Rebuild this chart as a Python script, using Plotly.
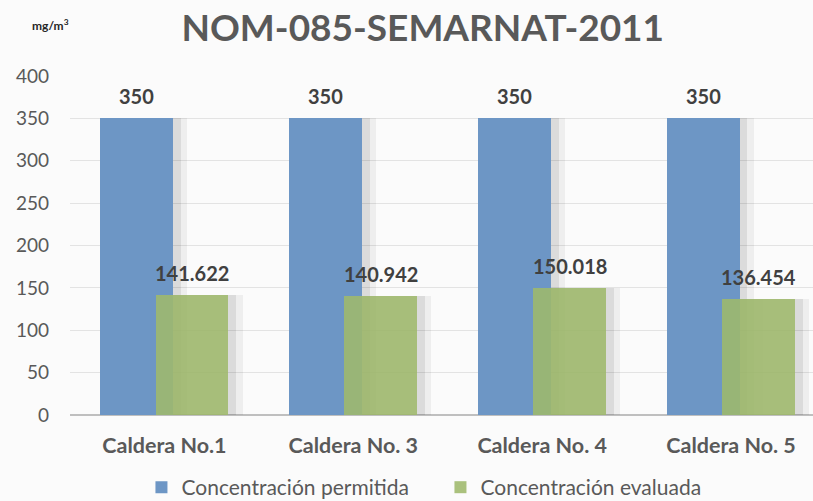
import plotly.graph_objects as go

categories = ["Caldera No.1", "Caldera No. 3", "Caldera No. 4", "Caldera No. 5"]
permitida = [350, 350, 350, 350]
evaluada = [141.622, 140.942, 150.018, 136.454]
series_names = ["Concentración permitida", "Concentración evaluada"]
y_ticks = [0, 50, 100, 150, 200, 250, 300, 350, 400]

xpos = list(range(len(categories)))
BW = 0.386
SH = 0.146
FONT = "Lato"
TXT = "#595959"

fig = go.Figure()
# soft shadows (two layers)
for off, alpha in [(0.075, 0.05), (0.04, 0.08)]:
    fig.add_trace(go.Bar(x=xpos, y=permitida, width=BW, offset=-SH - BW / 2 + off,
                         marker=dict(color=f"rgba(0,0,0,{alpha})", line=dict(width=0)),
                         showlegend=False, hoverinfo="skip"))
    fig.add_trace(go.Bar(x=xpos, y=evaluada, width=BW, offset=SH - BW / 2 + off,
                         marker=dict(color=f"rgba(0,0,0,{alpha})", line=dict(width=0)),
                         showlegend=False, hoverinfo="skip"))
fig.add_trace(go.Bar(x=xpos, y=permitida, width=BW, offset=-SH - BW / 2,
                     name=series_names[0],
                     marker=dict(color="#6d96c5", line=dict(width=0))))
fig.add_trace(go.Bar(x=xpos, y=evaluada, width=BW, offset=SH - BW / 2,
                     name=series_names[1], opacity=0.88,
                     marker=dict(color="#9fba6c", line=dict(width=0))))

annotations = []
for i, v in enumerate(permitida):
    annotations.append(dict(x=i - SH, y=v, xref="x", yref="y", text=f"{v:g}",
                            showarrow=False, yanchor="bottom", yshift=8,
                            font=dict(family=FONT, size=20, color="#404040", weight="bold")))
for i, v in enumerate(evaluada):
    annotations.append(dict(x=i + SH, y=v, xref="x", yref="y", text=f"{v:.3f}",
                            showarrow=False, yanchor="bottom", yshift=8,
                            font=dict(family=FONT, size=20, color="#404040", weight="bold")))
annotations.append(dict(x=(50 - 69.5) / 743.5, y=(415 - 25) / 339, xref="paper", yref="paper",
                        text="mg/m<sup>3</sup>", showarrow=False, xanchor="center", yanchor="middle",
                        font=dict(family=FONT, size=12, color="#262626", weight="bold")))

fig.update_layout(
    width=813, height=501,
    margin=dict(l=69.5, r=0, t=76, b=86, autoexpand=False),
    paper_bgcolor="#fbfbfb", plot_bgcolor="#fbfbfb",
    barmode="overlay",
    bargap=0,
    title=dict(text="NOM-085-SEMARNAT-2011", x=0.52, xanchor="center", y=0.945, yanchor="middle",
               font=dict(family=FONT, size=37, color="#595959", weight="bold")),
    xaxis=dict(range=[-0.5, 3.434], tickvals=xpos, ticktext=categories, automargin=False,
               showgrid=False, zeroline=False, showline=False, ticklabelstandoff=15,
               tickfont=dict(family=FONT, size=21.5, color=TXT, weight="bold"), ticks=""),
    yaxis=dict(range=[0, 400], tickvals=y_ticks, showgrid=True, gridcolor="#e3e3e3", gridwidth=1,
               automargin=False,
               zeroline=True, zerolinecolor="#bfbfbf", zerolinewidth=1.5,
               tickfont=dict(family=FONT, size=19, color=TXT), ticks="", ticklabelstandoff=20),
    legend=dict(orientation="h", x=(141 - 69.5) / 743.5, xanchor="left", y=-0.214, yanchor="middle",
                font=dict(family=FONT, size=21, color=TXT), traceorder="normal",
                itemwidth=30, entrywidth=254, entrywidthmode="pixels", bgcolor="rgba(0,0,0,0)"),
    annotations=annotations,
    showlegend=True,
)

fig.write_html("out.html", config={"displayModeBar": False},
               post_script="document.body.style.margin='0';")
